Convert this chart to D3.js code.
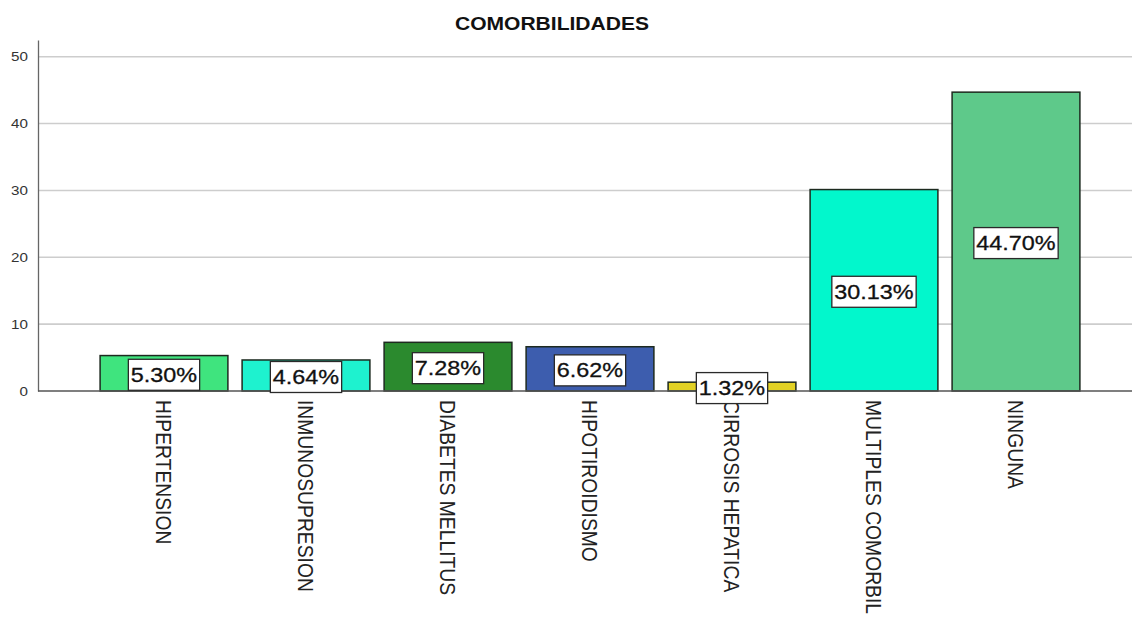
<!DOCTYPE html>
<html>
<head>
<meta charset="utf-8">
<script src="https://cdn.jsdelivr.net/npm/d3@7"></script>
<style>
  html, body { margin: 0; padding: 0; background: #fff; }
  svg { display: block; font-family: Arial, "Liberation Sans", sans-serif; }
</style>
</head>
<body>
<svg id="chart" width="1132" height="623"></svg>
<script>
// Comorbidity categories and their share of patients (%)
const categories = ["HIPERTENSION", "INMUNOSUPRESION", "DIABETES MELLITUS", "HIPOTIROIDISMO",
                    "CIRROSIS HEPATICA", "MULTIPLES COMORBIL", "NINGUNA"];
const percentages = [5.30, 4.64, 7.28, 6.62, 1.32, 30.13, 44.70];
const barColors = ["#3fe47e", "#1ef2cf", "#2b8a2e", "#3d5dae", "#e2d224", "#02f7cc", "#5ec98a"];
const yTicks = [0, 10, 20, 30, 40, 50];
const chartTitle = "COMORBILIDADES";

(function draw() {
  const svg = d3.select("#chart");
  const stretch = 1.17;             // horizontal widening applied to all text
  const plotLeft = 38, plotRight = 1132, plotTop = 40, baseY = 391;

  const x = d3.scaleBand()
    .domain(categories)
    .range([93, 1087])
    .paddingInner(0.1)
    .paddingOuter(0.05);

  const y = d3.scaleLinear()
    .domain([0, 52.5])
    .range([baseY, plotTop]);

  // Horizontal gridlines
  svg.append("g")
    .selectAll("line")
    .data(yTicks.filter(d => d > 0))
    .join("line")
    .attr("x1", plotLeft).attr("x2", plotRight)
    .attr("y1", d => y(d)).attr("y2", d => y(d))
    .attr("stroke", "#cdcdcd")
    .attr("stroke-width", 1.6);

  // Y axis
  const yAxis = svg.append("g")
    .attr("transform", `translate(${plotLeft},0)`)
    .call(d3.axisLeft(y).tickValues(yTicks).tickSize(0).tickPadding(0));
  yAxis.select(".domain").attr("stroke", "#666").attr("stroke-width", 1.3);
  yAxis.selectAll("text")
    .attr("x", -10 / stretch)
    .attr("transform", `scale(${stretch},1)`)
    .attr("font-size", 13)
    .attr("font-family", "Arial, 'Liberation Sans', sans-serif")
    .attr("fill", "#333");

  // Bars
  svg.append("g")
    .selectAll("rect")
    .data(categories)
    .join("rect")
    .attr("x", d => x(d))
    .attr("width", x.bandwidth())
    .attr("y", (d, i) => y(percentages[i]))
    .attr("height", (d, i) => y(0) - y(percentages[i]))
    .attr("fill", (d, i) => barColors[i])
    .attr("stroke", "#1d2a1f")
    .attr("stroke-width", 1.5);

  // X axis baseline
  const xAxis = svg.append("g")
    .attr("transform", `translate(0,${baseY})`)
    .call(d3.axisBottom(x).tickSize(0).tickPadding(0));
  xAxis.select(".domain")
    .attr("d", `M${plotLeft},0H${plotRight}`)
    .attr("stroke", "#555").attr("stroke-width", 1.3);
  xAxis.selectAll(".tick text").remove();

  // Rotated category labels reading downward
  svg.append("g")
    .selectAll("text")
    .data(categories)
    .join("text")
    .attr("transform", d => `translate(${x(d) + x.bandwidth() / 2},${baseY + 9}) rotate(90) scale(1,${stretch})`)
    .attr("dominant-baseline", "central")
    .attr("text-anchor", "start")
    .attr("font-size", 19.3)
    .attr("fill", "#222")
    .text(d => d);

  // Value labels in white boxes at the middle of each bar
  const labels = svg.append("g")
    .selectAll("g")
    .data(categories)
    .join("g")
    .attr("transform", (d, i) => `translate(${x(d) + x.bandwidth() / 2},${y(percentages[i] / 2) + 1.5})`);

  labels.append("rect")
    .attr("fill", "#fff")
    .attr("stroke", "#2a2a2a")
    .attr("stroke-width", 1.3);

  labels.append("text")
    .attr("transform", `scale(${stretch},1)`)
    .attr("text-anchor", "middle")
    .attr("dominant-baseline", "central")
    .attr("font-size", 20)
    .attr("fill", "#111")
    .attr("stroke", "#111")
    .attr("stroke-width", 0.3)
    .text((d, i) => percentages[i].toFixed(2) + "%");

  labels.each(function () {
    const g = d3.select(this);
    const w = g.select("text").node().getComputedTextLength() * stretch + 5;
    g.select("rect")
      .attr("x", -w / 2).attr("width", w)
      .attr("y", -15.5).attr("height", 31);
  });

  // Title
  svg.append("text")
    .attr("transform", `translate(552,30) scale(${stretch},1)`)
    .attr("text-anchor", "middle")
    .attr("font-size", 18)
    .attr("font-weight", "bold")
    .attr("fill", "#111")
    .text(chartTitle);
})();
</script>
</body>
</html>
